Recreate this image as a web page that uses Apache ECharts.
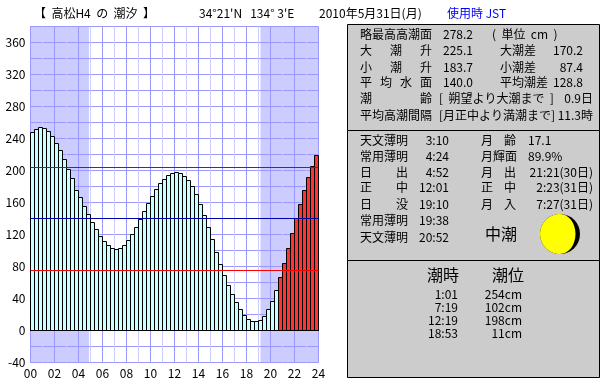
<!DOCTYPE html>
<html>
<head>
<meta charset="utf-8">
<script src="https://cdn.jsdelivr.net/npm/echarts@6/dist/echarts.min.js"></script>
<style>
  html, body { margin: 0; background: #fff; }
  #chart { width: 610px; height: 385px; }
</style>
</head>
<body>
<div id="chart"></div>
<script>
// 20 minute tide heights (cm), 72 bars
const tideHeights = [
  247.5, 251.25, 253.75, 252.5, 248.75, 242.5, 233.75, 225, 213.75, 201.25, 190, 175,
  166.25, 155, 145, 135, 126.25, 117.5, 111.25, 106.25, 102.5, 101.25, 102.5, 106.25,
  112.5, 120, 128.75, 138.75, 148.75, 158.75, 167.5, 176.25, 183.75, 188.75, 193.75, 196.25,
  197.5, 196.25, 192.5, 187.5, 180, 170, 157.5, 143.75, 128.75, 113.75, 97.5, 82.5,
  68.75, 56.25, 45, 35, 26.25, 18.75, 13.75, 11.25, 11.25, 12.5, 17.5, 26.25,
  36.25, 50, 66.25, 83.75, 102.5, 121.25, 140, 157.5, 175, 191.25, 205, 218.75
];
const firstRedBar = 62;
const sunRise = 4.87;
const sunSet = 19.17;
const levelHigh = 203.75;
const levelMean = 140;
const levelLow = 75;
const barLabels = tideHeights.map((_, i) => String(i));

const titleTexts = ['【  高松H4  の  潮汐  】', "34°21'N   134° 3'E", '2010年5月31日(月)', '使用時 JST'];
const box1Labels = ['略最高高潮面', '大 潮 升', '小 潮 升', '平 均 水 面', '潮 齢', '平均高潮間隔'];
const box1Values = ['278.2', '225.1', '183.7', '140.0'];
const box1Labels2 = ['(  単位  cm  )', '大潮差', '小潮差', '平均潮差'];
const box1Values2 = ['', '170.2', '87.4', '128.8'];
const box1Notes = ['[  朔望より大潮まで  ]', '[月正中より満潮まで]'];
const box1NoteValues = ['0.9日', '11.3時'];
const sunLabels = ['天文薄明', '常用薄明', '日 出', '正 中', '日 没', '常用薄明', '天文薄明'];
const sunTimes = ['3:10', '4:24', '4:52', '12:01', '19:10', '19:38', '20:52'];
const moonLabels = ['月 齢', '月輝面', '月 出', '正 中', '月 入'];
const moonValues = ['17.1', '89.9%', '21:21(30日)', '2:23(31日)', '7:27(31日)'];
const tideName = '中潮';
const peakHeaders = ['潮時', '潮位'];
const peakTimes = ['1:01', '7:19', '12:19', '18:53'];
const peakLevels = ['254cm', '102cm', '198cm', '11cm'];

const FONT = '"Noto Sans CJK JP", sans-serif';

function txt(text, x, y, opt) {
  opt = opt || {};
  return {
    type: 'text',
    z: 10,
    style: {
      text,
      x,
      y,
      fill: opt.color || '#000',
      font: (opt.size || 12) + 'px ' + FONT,
      textAlign: opt.align || 'left',
      textVerticalAlign: 'middle'
    }
  };
}

// label like '大 潮 升' spread evenly between x0 and x1
function spread(label, x0, x1, y) {
  const parts = label.split(' ');
  if (parts.length === 1) return [txt(label, x0, y)];
  const step = (x1 - x0 - 12) / (parts.length - 1);
  return parts.map((c, i) => txt(c, x0 + step * i, y));
}

function box(y, h) {
  return {
    type: 'rect',
    z: 5,
    shape: { x: 347.5, y: y + 0.5, width: 252, height: h },
    style: { fill: '#cccccc', stroke: '#000', lineWidth: 1 }
  };
}

function buildGraphics() {
  const els = [box(24, 106), box(130, 130), box(260, 117)];
  els.push(txt(titleTexts[0], 34, 13.5));
  els.push(txt(titleTexts[1], 199, 13.5));
  els.push(txt(titleTexts[2], 319, 13.5));
  els.push(txt(titleTexts[3], 447, 13.5, { color: '#0000ff' }));

  const rows1 = [34, 50.5, 67, 82, 98, 115];
  box1Labels.forEach((l, i) => els.push(...spread(l, 360, 432, rows1[i])));
  box1Values.forEach((v, i) => els.push(txt(v, 443, rows1[i])));
  box1Labels2.forEach((l, i) => els.push(txt(l, i === 0 ? 492 : 500, rows1[i])));
  box1Values2.forEach((v, i) => els.push(txt(v, 583, rows1[i], { align: 'right' })));
  box1Notes.forEach((n, i) => els.push(txt(n, 439, rows1[4 + i])));
  box1NoteValues.forEach((v, i) => els.push(txt(v, 593, rows1[4 + i], { align: 'right' })));

  const rows2 = [140, 156, 172, 187, 204, 220, 237];
  sunLabels.forEach((l, i) => els.push(...spread(l, 360, 408, rows2[i])));
  sunTimes.forEach((v, i) => els.push(txt(v, 449, rows2[i], { align: 'right' })));
  moonLabels.forEach((l, i) => els.push(...spread(l, 481, 516, rows2[i])));
  moonValues.forEach((v, i) => {
    if (i < 2) els.push(txt(v, 528, rows2[i]));
    else els.push(txt(v, 593, rows2[i], { align: 'right' }));
  });
  els.push(txt(tideName, 485, 234, { size: 16 }));

  // moon
  els.push({ type: 'circle', z: 6, shape: { cx: 560, cy: 234, r: 20 }, style: { fill: '#000' } });
  els.push({
    type: 'sector', z: 7,
    shape: { cx: 560, cy: 234, r0: 0, r: 20, startAngle: Math.PI / 2, endAngle: Math.PI * 1.5 },
    style: { fill: '#ffff00' }
  });
  els.push({ type: 'ellipse', z: 7, shape: { cx: 560, cy: 234, rx: 15.5, ry: 20 }, style: { fill: '#ffff00' } });

  els.push(txt(peakHeaders[0], 443, 275, { size: 16, align: 'center' }));
  els.push(txt(peakHeaders[1], 508, 275, { size: 16, align: 'center' }));
  const rows3 = [294, 307, 320, 333.5];
  peakTimes.forEach((v, i) => els.push(txt(v, 458, rows3[i], { align: 'right' })));
  peakLevels.forEach((v, i) => els.push(txt(v, 522, rows3[i], { align: 'right' })));
  return els;
}

function levelLine(value, color, z) {
  return {
    type: 'line',
    xAxisIndex: 1,
    yAxisIndex: 0,
    z,
    symbol: 'none',
    silent: true,
    animation: false,
    lineStyle: { color, width: 1 },
    data: [[0, value], [24, value]]
  };
}

// plain bar series blurs the 1px borders at this width, so draw the rects here
function renderTideBar(params, api) {
  const i = api.value(0);
  const top = api.coord([i, api.value(1)]);
  const base = api.coord([i, 0]);
  const w = api.size([1, 0])[0];
  return {
    type: 'rect',
    shape: { x: top[0] - w / 2, y: top[1], width: w, height: base[1] - top[1] },
    style: { fill: i >= firstRedBar ? '#ff3333' : '#ccffff', stroke: '#000', lineWidth: 1 }
  };
}

const chart = echarts.init(document.getElementById('chart'), null, { renderer: 'canvas' });
const option = {
  animation: false,
  backgroundColor: '#ffffff',
  graphic: { elements: buildGraphics() },
  grid: { left: 30.5, top: 26.5, width: 288, height: 336, show: false },
  xAxis: [
    {
      type: 'category',
      data: barLabels,
      z: 3,
      axisLine: { onZero: true, lineStyle: { color: '#000', width: 1 } },
      axisTick: { show: false },
      axisLabel: { show: false },
      splitLine: { show: false }
    },
    {
      type: 'value',
      position: 'bottom',
      min: 0,
      max: 24,
      interval: 2,
      z: 1,
      axisLine: { show: false },
      axisTick: { show: false },
      axisLabel: {
        color: '#000',
        fontFamily: FONT,
        fontSize: 12,
        margin: 5,
        formatter: (v) => String(v).padStart(2, '0')
      },
      splitLine: { show: true, lineStyle: { color: '#9999ff', width: 1 } },
      minorTick: { show: false, splitNumber: 2 },
      minorSplitLine: { show: true, lineStyle: { color: '#ccccff', width: 1 } }
    }
  ],
  yAxis: {
    type: 'value',
    min: -40,
    max: 380,
    interval: 20,
    z: 1,
    axisLine: { show: true, onZero: false, lineStyle: { color: '#9999ff' } },
    axisTick: { show: false },
    axisLabel: {
      color: '#000',
      fontFamily: FONT,
      fontSize: 12,
      margin: 5,
      formatter: (v) => (v % 40 === 0 ? String(v) : '')
    },
    splitLine: { show: true, lineStyle: { color: '#9999ff', width: 1 } }
  },
  series: [
    {
      // night shading sits under the grid lines
      type: 'line',
      xAxisIndex: 1,
      yAxisIndex: 0,
      z: 0,
      symbol: 'none',
      silent: true,
      lineStyle: { width: 0 },
      data: [[0, 0], [24, 0]],
      markArea: {
        silent: true,
        z: 0,
        itemStyle: { color: '#ccccff', opacity: 1 },
        data: [
          [{ xAxis: 0, yAxis: -40 }, { xAxis: sunRise, yAxis: 380 }],
          [{ xAxis: sunSet, yAxis: -40 }, { xAxis: 24, yAxis: 380 }]
        ]
      }
    },
    {
      type: 'custom',
      xAxisIndex: 0,
      yAxisIndex: 0,
      z: 2,
      silent: true,
      renderItem: renderTideBar,
      encode: { x: 0, y: 1 },
      data: tideHeights.map((v, i) => [i, v])
    },
    levelLine(levelHigh, '#cc0000', 4),
    levelLine(levelMean, '#0000aa', 4),
    levelLine(levelLow, '#ff0000', 4)
  ]
};
chart.setOption(option);
</script>
</body>
</html>
